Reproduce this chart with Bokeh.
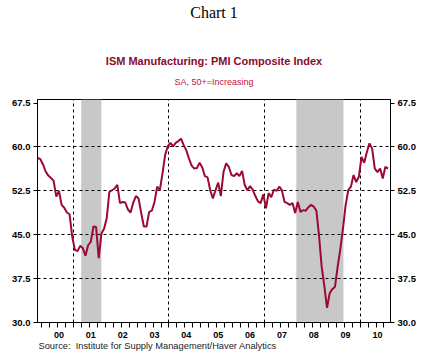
import pandas as pd
from bokeh.plotting import figure
from bokeh.models import (FixedTicker, LinearAxis, Title, BoxAnnotation,
                          PrintfTickFormatter, Range1d, ColumnDataSource)
from bokeh.embed import file_html
from bokeh.resources import INLINE

# ---------------- data ----------------
first_month = "1999-11-01"
pmi = [
    58.1, 57.9,
    57.0, 55.8, 55.1, 54.7, 54.2, 51.5, 52.5, 50.1, 49.6, 48.8, 48.5, 44.7,   # 2000
    42.4, 42.2, 43.1, 42.7, 41.4, 43.2, 43.8, 46.4, 46.3, 41.0, 45.2, 46.0,   # 2001
    47.8, 52.3, 52.6, 52.9, 53.5, 50.4, 50.6, 50.5, 49.3, 48.8, 50.5, 51.6,   # 2002
    51.2, 48.7, 46.4, 46.4, 48.9, 49.1, 50.6, 53.2, 52.6, 55.4, 58.6, 60.1,   # 2003
    60.7, 60.1, 60.7, 61.0, 61.4, 60.3, 59.4, 58.0, 56.8, 56.3, 56.4, 57.3,   # 2004
    56.5, 55.0, 54.8, 52.6, 51.2, 52.6, 53.9, 51.6, 55.7, 57.2, 56.6, 55.2,   # 2005
    55.0, 55.5, 55.0, 55.9, 53.5, 52.6, 53.3, 52.7, 51.6, 50.7, 50.4, 51.9,   # 2006
    49.5, 52.1, 51.4, 52.7, 52.5, 53.2, 52.6, 50.6, 50.4, 50.1, 50.4, 48.7,   # 2007
    50.6, 48.9, 49.2, 49.1, 49.7, 50.1, 49.8, 49.1, 44.8, 39.5, 36.2, 32.5,   # 2008
    35.0, 35.7, 36.1, 39.5, 42.5, 46.0, 50.0, 52.6, 53.2, 55.2, 54.0, 54.9,   # 2009
    58.3, 57.3, 59.1, 60.6, 59.7, 56.3, 55.7, 56.3, 54.6, 56.6, 56.3,         # 2010
]
label_years = [2000, 2001, 2002, 2003, 2004, 2005, 2006, 2007, 2008, 2009, 2010]
year_labels = ["00", "01", "02", "03", "04", "05", "06", "07", "08", "09", "10"]
y_ticks = [30.0, 37.5, 45.0, 52.5, 60.0, 67.5]
recession_starts = ["2001-03-15", "2007-12-15"]
recession_ends = ["2001-11-01", "2009-06-08"]
vline_dates = ["2000-12-15", "2003-12-15", "2006-12-15", "2009-12-15"]

title_main = "ISM Manufacturing: PMI Composite Index"
subtitle = "SA, 50+=Increasing"
chart_title = "Chart 1"
source_text = "Source:\u00a0 Institute for Supply Management/Haver Analytics"


def dec_year(ts):
    ts = pd.Timestamp(ts)
    days = 366 if ts.is_leap_year else 365
    return ts.year + (ts.dayofyear - 1) / days


dates = pd.date_range(first_month, periods=len(pmi), freq="MS")
xs = [d.year + (d.month - 1) / 12 for d in dates]
src = ColumnDataSource(dict(x=xs, y=pmi))

LINE_COL = "#9B0A32"
FONT = "Liberation Sans"

p = figure(width=426, height=354,
           x_range=Range1d(1999.827, 2010.91), y_range=Range1d(30, 68.1),
           output_backend="svg", toolbar_location=None,
           min_border_left=37, min_border_right=36,
           min_border_top=99, min_border_bottom=32,
           background_fill_color="white", border_fill_color="white")

p.outline_line_color = "black"
p.outline_line_width = 1

# recession shading
for s, e in zip(recession_starts, recession_ends):
    p.add_layout(BoxAnnotation(left=dec_year(s), right=dec_year(e),
                               fill_color="#C8C8C8", fill_alpha=1.0,
                               line_color=None, level="image"))

# grids
p.ygrid.ticker = FixedTicker(ticks=y_ticks[1:-1])
p.ygrid.grid_line_color = "black"
p.ygrid.grid_line_dash = "3 3"
p.ygrid.grid_line_width = 1
p.xgrid.ticker = FixedTicker(ticks=[dec_year(d) for d in vline_dates])
p.xgrid.grid_line_color = "black"
p.xgrid.grid_line_dash = "3 3"
p.xgrid.grid_line_width = 1

p.line("x", "y", source=src, line_color=LINE_COL, line_width=2)

# y axes
def style_y(ax):
    ax.ticker = FixedTicker(ticks=y_ticks)
    ax.formatter = PrintfTickFormatter(format="%.1f")
    ax.major_label_text_font = FONT
    ax.major_label_text_font_style = "bold"
    ax.major_label_text_font_size = "9.5px"
    ax.major_label_text_color = "black"
    ax.major_tick_out = 4
    ax.major_tick_in = 0
    ax.major_label_standoff = 3
    ax.minor_tick_line_color = None
    ax.axis_line_color = "black"
    ax.major_tick_line_color = "black"

style_y(p.yaxis[0])
right_ax = LinearAxis()
style_y(right_ax)
p.add_layout(right_ax, "right")

# x axis
xa = p.xaxis[0]
quarter_ticks = [y + q / 4 - 0.045 for y in range(2000, 2012) for q in range(4)]
xa.ticker = FixedTicker(ticks=[y + 0.5 for y in label_years], minor_ticks=quarter_ticks)
xa.major_label_overrides = {y + 0.5: lab for y, lab in zip(label_years, year_labels)}
xa.major_tick_line_color = None
xa.major_tick_out = 0
xa.major_tick_in = 0
xa.minor_tick_out = 5
xa.minor_tick_in = 0
xa.minor_tick_line_color = "black"
xa.axis_line_color = "black"
xa.major_label_standoff = 4
xa.major_label_text_font = FONT
xa.major_label_text_font_style = "bold"
xa.major_label_text_font_size = "9px"
xa.major_label_text_color = "black"

# titles (later-added sits further from the frame); blank titles act as spacers
p.add_layout(Title(text=" ", text_font_size="1px", standoff=8), "above")
p.add_layout(Title(text=subtitle, align="center", vertical_align="top",
                   text_font=FONT, text_font_size="9px", text_font_style="normal",
                   text_color="#C0143C", standoff=0), "above")
p.add_layout(Title(text=title_main, align="center", vertical_align="top",
                   text_font=FONT, text_font_size="11px", text_font_style="bold",
                   text_color="#8B0A2B", standoff=16), "above")
p.add_layout(Title(text=" ", text_font_size="1px", standoff=20), "above")
p.add_layout(Title(text=chart_title, align="center", vertical_align="top",
                   text_font="Liberation Serif", text_font_size="16px",
                   text_font_style="normal", text_color="black", standoff=2), "above")
p.add_layout(Title(text=source_text, align="left", vertical_align="top", offset=1,
                   text_font=FONT, text_font_size="9.3px", text_font_style="normal",
                   text_color="#222222", standoff=0), "below")

open("out.html", "w").write(file_html(p, INLINE))
